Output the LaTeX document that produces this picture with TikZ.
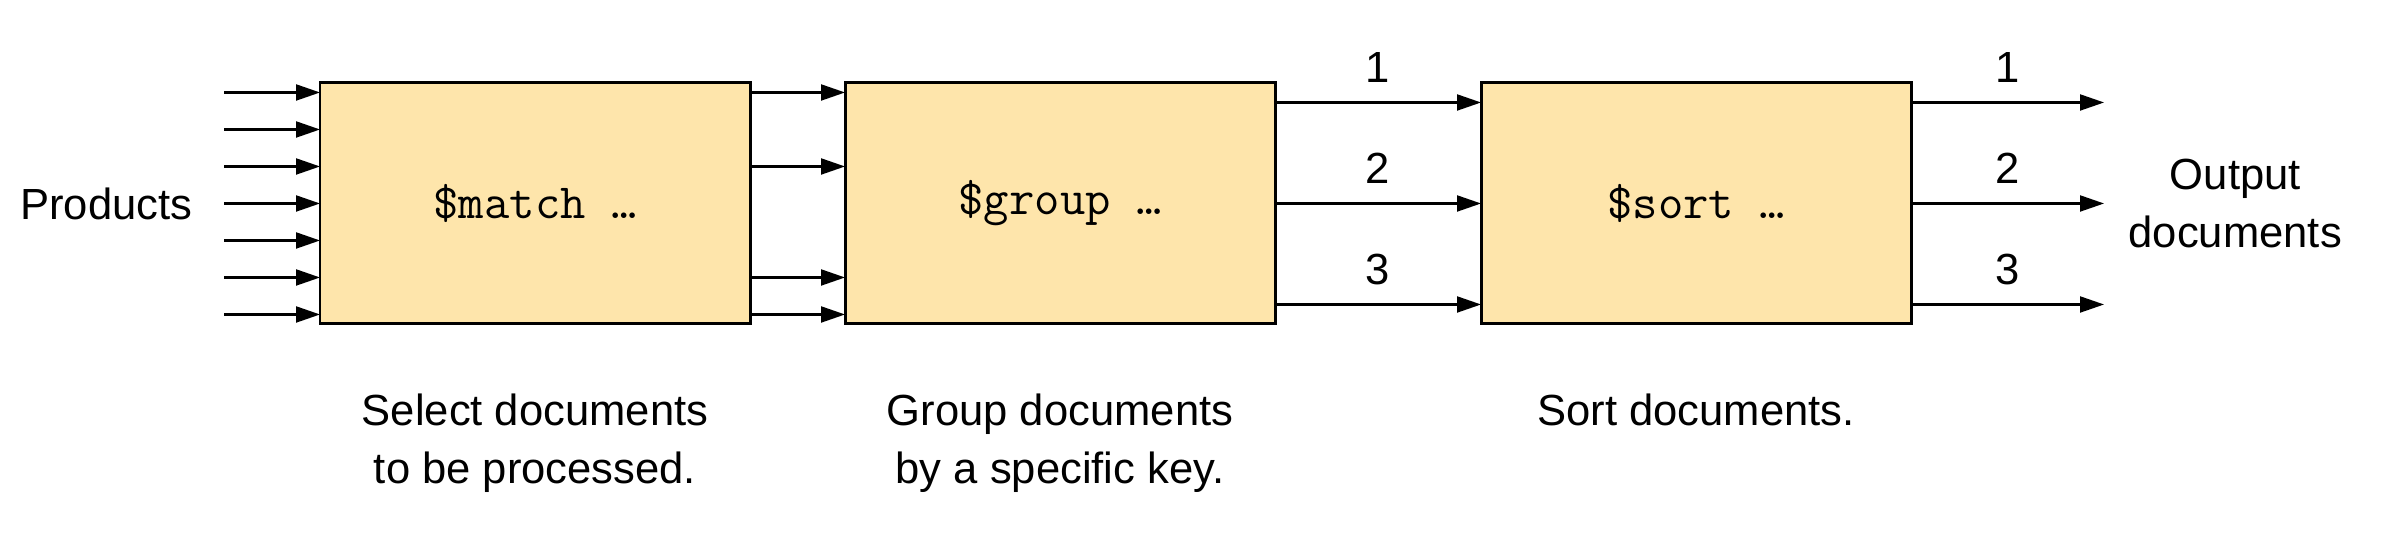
\documentclass[tikz,border=0pt]{standalone}
\usepackage{fontspec}
\setmainfont{Liberation Sans}
\usetikzlibrary{positioning,arrows.meta}
\definecolor{stagefill}{RGB}{254,229,171}
\tikzset{
    stage/.style = {
        draw,
        fill = stagefill,
        line width = 0.85pt,
        minimum width = 4.3cm,
        minimum height = 2.41cm,
        outer sep = 0pt,
        font = \fontsize{14}{16.5}\selectfont\ttfamily,
        },
    flow/.style = {
        line width = 0.6pt,
        -{Triangle[length=2.4mm, width=1.6mm]},
        },
    stage note/.style = {
        align = center,
        inner sep = 0pt,
        font = \fontsize{12.4}{16.5}\selectfont,
        },
    numlabel/.style = {
        inner sep = 0pt,
        above = 0.19cm,
        font = \fontsize{12.4}{16.5}\selectfont,
        },
}

\begin{document}
\begin{tikzpicture}
            \useasboundingbox (0,0) rectangle (24.02,5.38);

            \node [stage] (match) at (5.35,3.345) {\$match …};
            \node [stage, right=0.95cm of match] (group) {\$group …};
            \node [stage, right=2.06cm of group] (sort) {\$sort …};

            % incoming products
            \foreach \i in {1,...,7} {
                \coordinate (in\i) at ([xshift=-0.96cm, yshift={(4-\i)*0.37cm}]match.west);
                \draw [flow] (in\i) -- (in\i -| match.west);
            }
            \node [stage note, left=0.31cm of in4] (products) {Products};

            \foreach \s in {1.11, 0.37, -0.74, -1.11}
                \draw [flow] ([yshift=\s cm]match.east) -- ([yshift=\s cm]group.west);

            \foreach \s/\n in {1.01/1, 0/2, -1.01/3}
                \draw [flow] ([yshift=\s cm]group.east) -- node [numlabel] {\n} ([yshift=\s cm]sort.west);

            % outgoing documents
            \foreach \s/\n in {1.01/1, 0/2, -1.01/3} {
                \coordinate (out\n) at ([xshift=1.93cm, yshift=\s cm]sort.east);
                \draw [flow] ([yshift=\s cm]sort.east) -- node [numlabel] {\n} (out\n);
            }
            \node [stage note, right=0.24cm of out2] (output) {Output\\documents};

            \node [stage note, below=0.69cm of match] (match note) {Select documents\\to be processed.};
            \node [stage note, below=0.69cm of group] (group note) {Group documents\\by a specific key.};
            \node [stage note, below=0.69cm of sort] (sort note) {Sort documents.};
\end{tikzpicture}
\end{document}
